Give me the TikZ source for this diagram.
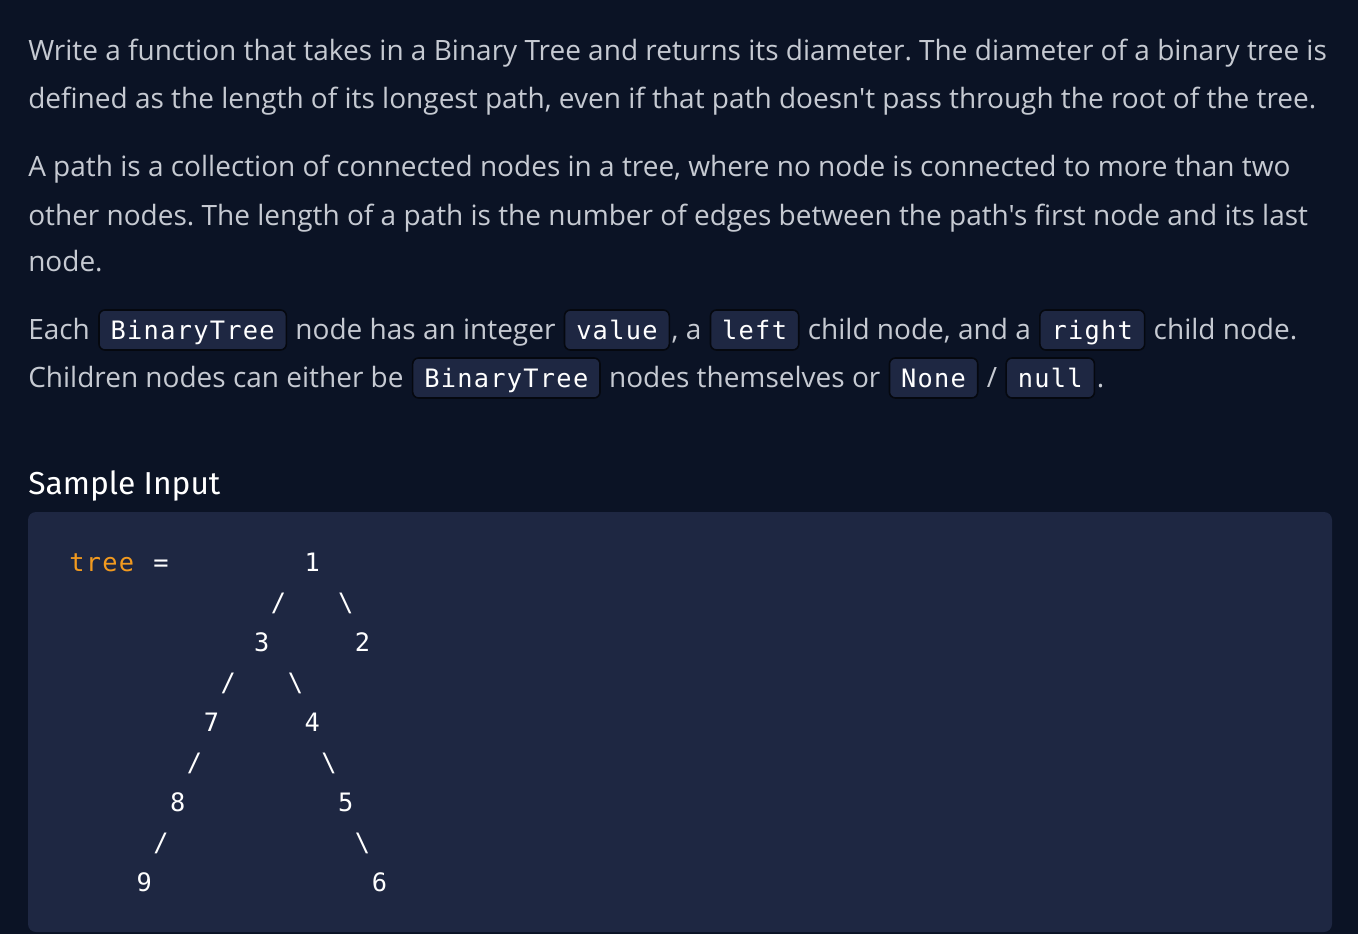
\documentclass[tikz,border=0pt]{standalone}
\usepackage{fontspec}
\newfontfamily\bodyfont{Open Sans}
\newfontfamily\headfont{Fira Sans}
\newfontfamily\codefont[LetterSpace=5]{DejaVu Sans Mono}
\usetikzlibrary{positioning}
\definecolor{pagebg}{HTML}{0B1325}
\definecolor{codebg}{HTML}{1E2742}
\definecolor{boxline}{HTML}{05080F}
\definecolor{bodygray}{HTML}{C6CAD2}
\definecolor{treeorange}{HTML}{F29A1F}
\frenchspacing
\tikzset{para/.style={anchor=base west, inner sep=0pt, text=bodygray,
    font=\bodyfont\fontsize{21}{25}\selectfont}}
\tikzset{codebox/.style={draw=boxline, fill=codebg, line width=1.2pt,
    rounded corners=4.5pt, text=white, inner xsep=8.8pt, inner ysep=0pt,
    text height=21.75pt, text depth=8.25pt,
    font=\codefont\fontsize{19}{22}\selectfont}}
\tikzset{cell/.style={anchor=base, inner sep=0pt, text=white,
    font=\codefont\fontsize{19}{22}\selectfont}}
\newcommand\fsl{/}
\newcommand\bsl{\textbackslash}

\begin{document}
\begin{tikzpicture}[x=0.75pt, y=-0.75pt]
\fill[pagebg] (0,0) rectangle (1358,934);
\useasboundingbox (0,0) rectangle (1358,934);

% first two paragraphs
\node[para] (p1) at (28,61) {Write a function that takes in a Binary Tree and returns its diameter. The diameter of a binary tree is};
\node[para] (p2) at (28,109) {defined as the length of its longest path, even if that path doesn't pass through the root of the tree.};
\node[para] (p3) at (28,177) {A path is a collection of connected nodes in a tree, where no node is connected to more than two};
\node[para] (p4) at (28,225) {other nodes. The length of a path is the number of edges between the path's first node and its last};
\node[para] (p5) at (28,271) {node.};

% third paragraph, with inline code
\node[para] (a1) at (28,339) {Each};
\node[codebox, base right=6pt of a1] (a2) {BinaryTree};
\node[para, base right=6pt of a2] (a3) {node has an integer};
\node[codebox, base right=6pt of a3] (a4) {value};
\node[para, base right=1pt of a4] (a5) {, a};
\node[codebox, base right=6pt of a5] (a6) {left};
\node[para, base right=6pt of a6] (a7) {child node, and a};
\node[codebox, base right=6pt of a7] (a8) {right};
\node[para, base right=6pt of a8] (a9) {child node.};

\node[para] (b1) at (28,387) {Children nodes can either be};
\node[codebox, base right=6pt of b1] (b2) {BinaryTree};
\node[para, base right=6pt of b2] (b3) {nodes themselves or};
\node[codebox, base right=6pt of b3] (b4) {None};
\node[para, base right=6pt of b4] (b5) {/};
\node[codebox, base right=6pt of b5] (b6) {null};
\node[para, base right=1pt of b6] (b7) {.};

\node[anchor=base west, inner sep=0pt, text=white,
  font=\headfont\fontsize{23.8}{28}\selectfont] (head) at (28,494) {Sample Input};

% sample input block
\fill[codebg, rounded corners=6pt] (28,512) rectangle (1332,932);
\node[cell, anchor=base west, text=treeorange] (tree) at (69,571.5) {tree};
\node[cell] (eq) at ({77+5*16.8},571.5) {=};
\foreach \c/\r/\t [count=\i] in {14/0/1, 12/1/\fsl, 16/1/\bsl, 11/2/3, 17/2/2,
    9/3/\fsl, 13/3/\bsl, 8/4/7, 14/4/4, 7/5/\fsl, 15/5/\bsl, 6/6/8, 16/6/5,
    5/7/\fsl, 17/7/\bsl, 4/8/9, 18/8/6}
  \node[cell] (t\i) at ({77+\c*16.8},{571.5+\r*40}) {\t};

\end{tikzpicture}
\end{document}
